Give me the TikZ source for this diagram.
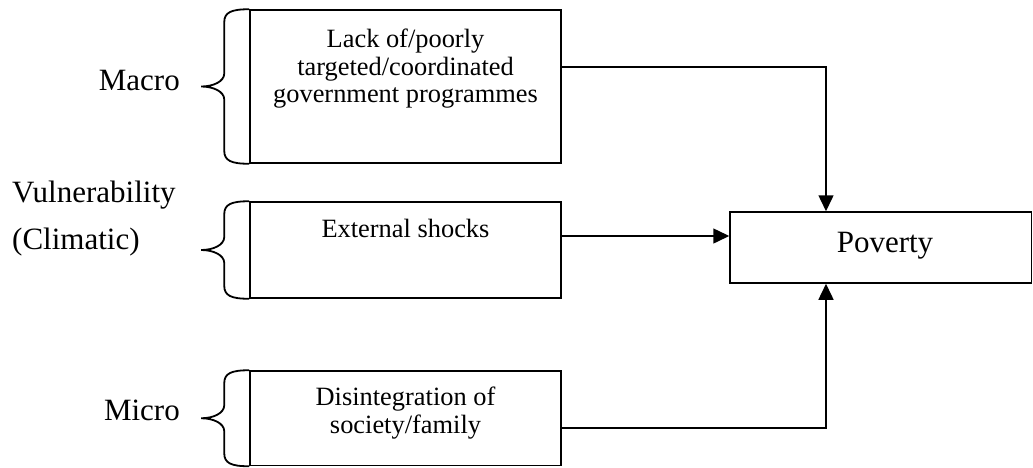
\documentclass[tikz,border=0pt]{standalone}
\usepackage{fontspec}
\setmainfont{Liberation Serif}
\usetikzlibrary{arrows.meta,calc}
\newcommand\bracefor[1]{%
  \draw[bracestyle] (#1.north west)
    .. controls +(-18pt,0pt) and +(0pt,10pt) .. ([shift={(-25pt,-13pt)}]#1.north west)
    -- ([shift={(-25pt,13pt)}]#1.west)
    .. controls +(0pt,-8pt) and +(12pt,0pt) .. ([xshift=-48pt]#1.west)
    .. controls +(12pt,0pt) and +(0pt,8pt) .. ([shift={(-25pt,-13pt)}]#1.west)
    -- ([shift={(-25pt,13pt)}]#1.south west)
    .. controls +(0pt,-10pt) and +(-18pt,0pt) .. (#1.south west);}
\begin{document}
\begin{tikzpicture}[x=1pt,y=-1pt,
  box/.style={draw,line width=1.5pt,rectangle,inner sep=0pt},
  boxtext/.style={font=\fontsize{26.4}{27.5}\selectfont,align=center,anchor=north,inner sep=0pt},
  lbl/.style={font=\fontsize{31}{36}\selectfont,inner sep=0pt},
  arr/.style={line width=1.5pt,-{Triangle[length=16pt,width=15pt]}},
  bracestyle/.style={line width=1.8pt}]
\useasboundingbox (0,0) rectangle (1033,467);
% boxes
\node[box,minimum width=311pt,minimum height=153pt] (b1) at (405.5,86.5) {};
\node[box,minimum width=311pt,minimum height=96pt] (b2) at (405.5,250) {};
\node[box,minimum width=311pt,minimum height=94.5pt] (b3) at (405.5,418.25) {};
\node[box,minimum width=301.5pt,minimum height=71pt] (pov) at (880.75,247.5) {};
% box texts
\node[boxtext] (t1) at (405.5,29) {Lack of/poorly\\targeted/coordinated\\government programmes};
\node[boxtext] (t2) at (405.5,219) {External shocks};
\node[boxtext] (t3) at (405.5,387) {Disintegration of\\society/family};
\node[lbl,anchor=base] (tp) at (885,252) {Poverty};
% side labels
\node[lbl,anchor=base east] (macro) at (180,90) {Macro};
\node[lbl,anchor=base west] (vul) at (12,202) {Vulnerability};
\node[lbl,anchor=base west] (clim) at (12,249) {(Climatic)};
\node[lbl,anchor=base east] (micro) at (180,420) {Micro};
% braces
\bracefor{b1}
\bracefor{b2}
\bracefor{b3}
% connectors
\draw[arr] ([yshift=19.5pt]b1.east) -| ([xshift=-54.75pt]pov.north);
\draw[arr] ([yshift=14pt]b2.east) -- ([yshift=11.5pt]pov.west);
\draw[arr] ([yshift=-9.75pt]b3.east) -| ([xshift=-54.75pt]pov.south);
\end{tikzpicture}
\end{document}
